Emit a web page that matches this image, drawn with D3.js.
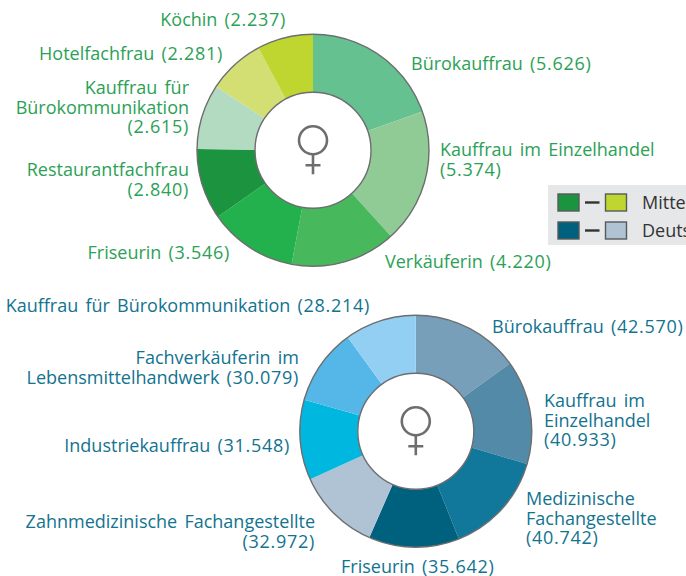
<!DOCTYPE html>
<html>
<head>
<meta charset="utf-8">
<script src="https://d3js.org/d3.v7.min.js"></script>
<style>
        html, body { margin: 0; padding: 0; background: #fff; overflow: hidden; }
        text { font-family: "Open Sans", sans-serif; font-size: 18px; word-spacing: 2.5px; }
        .num { letter-spacing: 0.7px; }
</style>
</head>
<body>
<svg id="chart" width="686" height="576"></svg>
<script>
// top ring
const regionJobs = ["Bürokauffrau", "Kauffrau im Einzelhandel", "Verkäuferin", "Friseurin",
        "Restaurantfachfrau", "Kauffrau für Bürokommunikation", "Hotelfachfrau", "Köchin"];
const regionValues = [5626, 5374, 4220, 3546, 2840, 2615, 2281, 2237];
const regionColours = ["#65c18f", "#90cb95", "#48b85c", "#23b14d", "#1c933e", "#b3dbc1", "#d3de73", "#bed62f"];

// bottom ring
const germanyJobs = ["Bürokauffrau", "Kauffrau im Einzelhandel", "Medizinische Fachangestellte", "Friseurin",
        "Zahnmedizinische Fachangestellte", "Industriekauffrau", "Fachverkäuferin im Lebensmittelhandwerk",
        "Kauffrau für Bürokommunikation"];
const germanyValues = [42570, 40933, 40742, 35642, 32972, 31548, 30079, 28214];
const germanyColours = ["#789fb9", "#528aa8", "#12789b", "#00617f", "#afc3d4", "#00b7e0", "#55b7e8", "#93cff2"];

const legendNames = ["Mitte", "Deutschland"];

// label layout: x, first baseline, anchor, words per line
const regionLabels = [
        [411, 70, "start", [2]],
        [440, 156, "start", [3, 1]],
        [385, 268, "start", [2]],
        [230, 259, "end", [2]],
        [189, 176, "end", [1, 1]],
        [189, 94, "end", [2, 1, 1]],
        [223, 60, "end", [2]],
        [286, 26, "end", [2]]
];
const germanyLabels = [
        [492, 333, "start", [2]],
        [544, 407, "start", [2, 1, 1]],
        [526, 505, "start", [1, 1, 1]],
        [341, 573, "start", [2]],
        [315, 528, "end", [2, 1]],
        [290, 452, "end", [2]],
        [299, 364, "end", [2, 2]],
        [370, 312, "end", [4]]
];

const svg = d3.select("#chart");
const grey = "#6d6e70";
const de = d3.formatLocale({ decimal: ",", thousands: ".", grouping: [3], currency: ["", "€"] });
const fmt = de.format(",d");

function drawRing(cx, cy, jobs, values, colours, labels, textColour) {
        const outer = 116, inner = 58;
        const g = svg.append("g").attr("transform", `translate(${cx},${cy})`);
        const pie = d3.pie().sort(null);
        const arc = d3.arc().innerRadius(inner).outerRadius(outer);

        g.selectAll("path.slice")
                .data(pie(values))
                .join("path")
                .attr("class", "slice")
                .attr("d", arc)
                .attr("fill", (d, i) => colours[i]);

        // outlines
        [outer, inner].forEach(r => {
                g.append("circle")
                        .attr("r", r)
                        .attr("fill", "none")
                        .attr("stroke", grey)
                        .attr("stroke-width", 1.4);
        });

        // venus sign
        const sign = g.append("g").attr("fill", "none").attr("stroke", grey).attr("stroke-width", 2.6);
        sign.append("circle").attr("cy", -10).attr("r", 14);
        sign.append("path").attr("d", "M0,4V24M-7.5,15H7.5");

        // labels, the number part gets wider spacing
        jobs.forEach((job, i) => {
                const [x, y, anchor, breaks] = labels[i];
                const words = (job + " (" + fmt(values[i]) + ")").split(" ");
                const t = svg.append("text")
                        .attr("text-anchor", anchor)
                        .attr("fill", textColour);
                let pos = 0;
                breaks.forEach((n, k) => {
                        const line = t.append("tspan")
                                .attr("x", x)
                                .attr("y", y + k * 19.7);
                        const part = words.slice(pos, pos + n);
                        const last = part[part.length - 1];
                        if (last.startsWith("(")) {
                                const head = part.slice(0, -1).join(" ");
                                if (head) line.append("tspan").text(head + " ");
                                line.append("tspan").attr("class", "num").text(last);
                        } else {
                                line.text(part.join(" "));
                        }
                        pos += n;
                });
        });
}

drawRing(313, 150.3, regionJobs, regionValues, regionColours, regionLabels, "#2ba155");
drawRing(415.8, 431.3, germanyJobs, germanyValues, germanyColours, germanyLabels, "#12738f");

// legend
svg.append("rect").attr("x", 548).attr("y", 185).attr("width", 138).attr("height", 60).attr("fill", "#e6e7e9");
const legendPairs = [[regionColours[4], regionColours[7]], [germanyColours[3], germanyColours[4]]];
legendPairs.forEach((pair, i) => {
        const y = 194 + i * 28;
        pair.forEach((c, k) => {
                svg.append("rect")
                        .attr("x", 558 + k * 47.5)
                        .attr("y", y)
                        .attr("width", 21)
                        .attr("height", 17)
                        .attr("fill", c)
                        .attr("stroke", "#58595b")
                        .attr("stroke-width", 1.4);
        });
        svg.append("line")
                .attr("x1", 585).attr("x2", 599.5)
                .attr("y1", y + 8.5).attr("y2", y + 8.5)
                .attr("stroke", "#333").attr("stroke-width", 2.4);
        svg.append("text")
                .attr("x", 642).attr("y", y + 14.5)
                .attr("fill", "#333")
                .text(legendNames[i]);
});
</script>
</body>
</html>
